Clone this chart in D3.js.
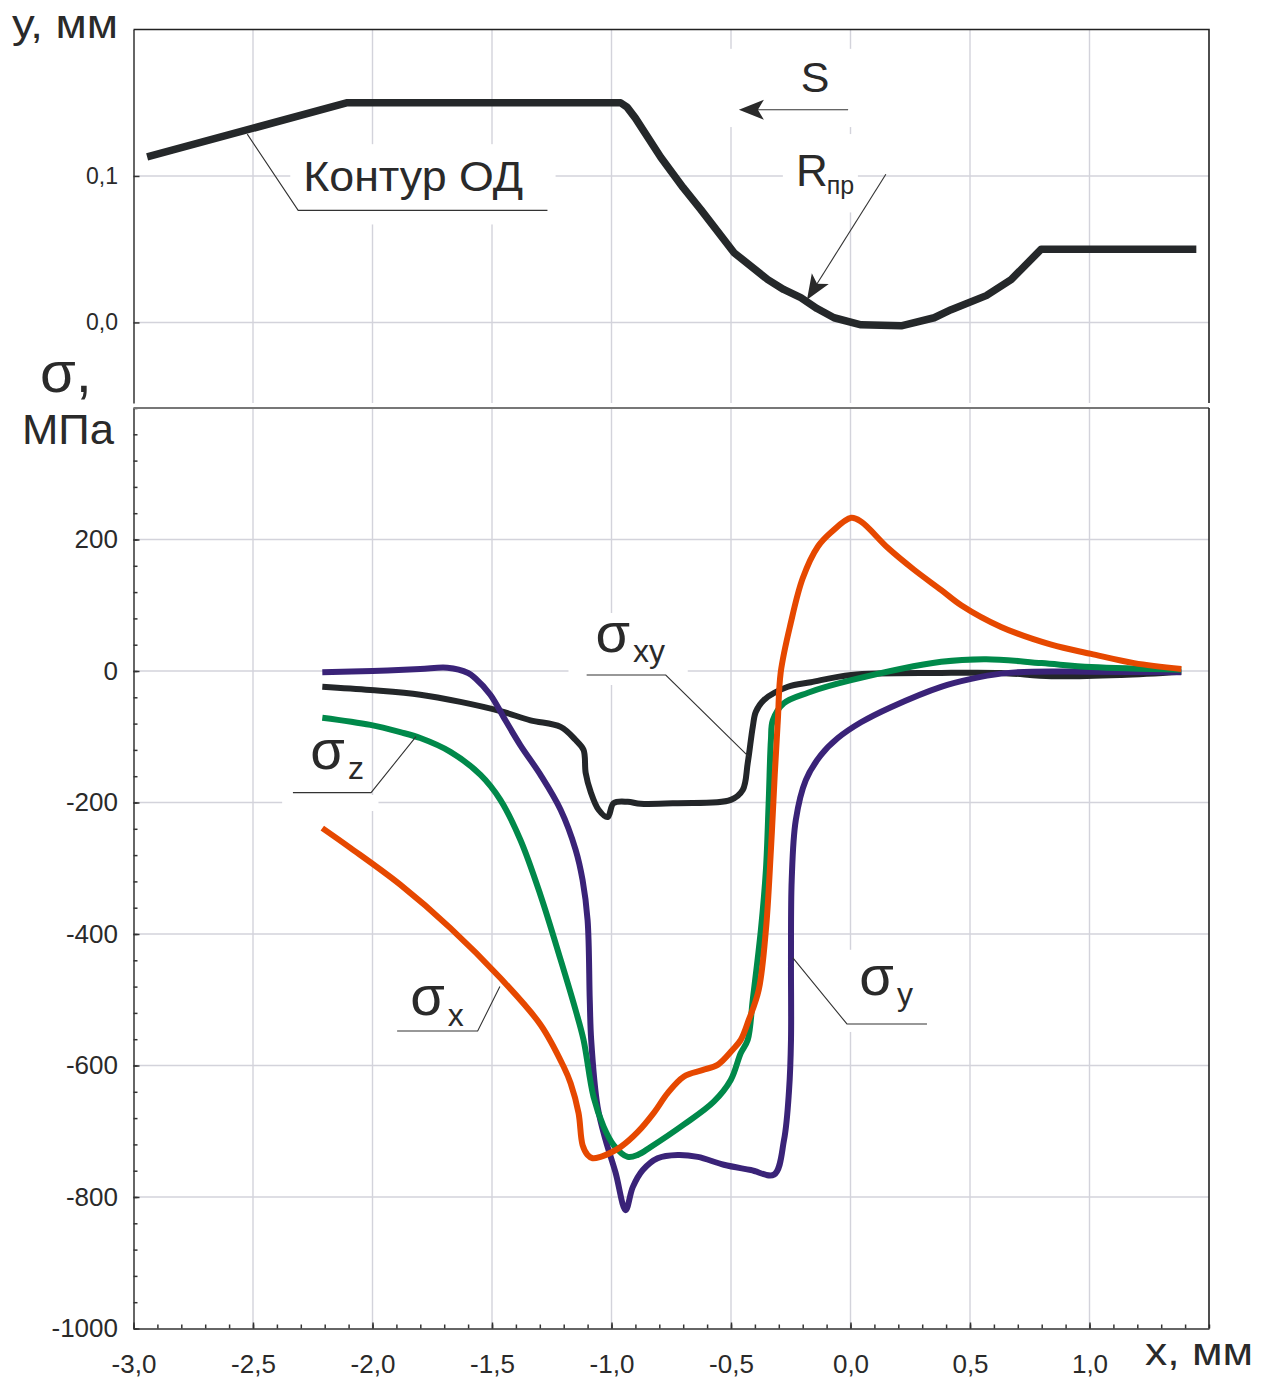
<!DOCTYPE html>
<html><head><meta charset="utf-8">
<script src="https://cdn.jsdelivr.net/npm/d3@7"></script>
<style>
body{margin:0;background:#fff}
svg text{font-family:"Liberation Sans",Arial,sans-serif;fill:#2a2a2a}
</style>
</head><body>
<svg id="c" width="1263" height="1380"></svg>
<script>
// ---------------- DATA ----------------
const X_TICKS = [-3.0, -2.5, -2.0, -1.5, -1.0, -0.5, 0.0, 0.5, 1.0];
const X_TICK_LABELS = ["-3,0", "-2,5", "-2,0", "-1,5", "-1,0", "-0,5", "0,0", "0,5", "1,0"];
const TOP_Y_TICKS = [0.0, 0.1];
const TOP_Y_TICK_LABELS = ["0,0", "0,1"];
const SIG_TICKS = [200, 0, -200, -400, -600, -800, -1000];
const SIG_TICK_LABELS = ["200", "0", "-200", "-400", "-600", "-800", "-1000"];

// contour of the part (top panel), mm
const contourX = [-2.943, -2.105, -0.962, -0.935, -0.900, -0.794, -0.700, -0.627, -0.488, -0.346, -0.280, -0.208, -0.140, -0.069, 0.044, 0.212, 0.350, 0.421, 0.568, 0.672, 0.798, 1.447];
const contourY = [0.113, 0.150, 0.150, 0.147, 0.1395, 0.1128, 0.0920, 0.0772, 0.0477, 0.0292, 0.0225, 0.0169, 0.0095, 0.0032, -0.0016, -0.0023, 0.0032, 0.0087, 0.0183, 0.0292, 0.050, 0.050];

// sigma_x (orange)
const sxX = [-2.210, -2.093, -1.884, -1.674, -1.465, -1.297, -1.200, -1.171, -1.138, -1.121, -1.100, -1.079, -1.046, -1.000, -0.962, -0.890, -0.823, -0.765, -0.698, -0.620, -0.556, -0.493, -0.459, -0.426, -0.384, -0.354, -0.333, -0.317, -0.304, -0.292, -0.250, -0.200, -0.137, -0.081, 0.003, 0.045, 0.157, 0.266, 0.380, 0.463, 0.630, 0.840, 1.007, 1.187, 1.384];
const sxY = [-239, -269, -325, -391, -467, -538, -602, -627, -672, -721, -736, -741, -739, -732, -724, -701, -672, -642, -617, -607, -599, -576, -561, -531, -485, -394, -272, -158, -75, -2, 73, 141, 189, 211, 233, 227, 187, 154, 123, 100, 67, 40, 26, 12, 3];

// sigma_y (purple)
const syX = [-2.210, -2.000, -1.800, -1.687, -1.600, -1.570, -1.507, -1.444, -1.381, -1.297, -1.213, -1.150, -1.121, -1.100, -1.091, -1.085, -1.058, -1.025, -0.983, -0.941, -0.911, -0.869, -0.807, -0.723, -0.639, -0.530, -0.417, -0.320, -0.278, -0.257, -0.249, -0.249, -0.246, -0.229, -0.187, -0.124, -0.053, 0.044, 0.169, 0.379, 0.505, 0.630, 0.760, 1.000, 1.384];
const syY = [-2, 0, 3, 5, -3, -11, -36, -75, -113, -158, -211, -272, -318, -379, -500, -561, -663, -713, -763, -820, -785, -759, -741, -736, -739, -751, -759, -766, -713, -637, -561, -439, -318, -227, -166, -128, -102, -78, -55, -24, -12, -4, -1, -1, -2];

// sigma_z (green)
const szX = [-2.210, -2.009, -1.884, -1.800, -1.674, -1.548, -1.465, -1.381, -1.297, -1.213, -1.150, -1.117, -1.075, -1.033, -0.991, -0.932, -0.890, -0.836, -0.698, -0.572, -0.501, -0.459, -0.430, -0.409, -0.375, -0.354, -0.342, -0.333, -0.325, -0.279, -0.178, 0.003, 0.380, 0.568, 0.800, 1.007, 1.384];
const szY = [-71, -82, -93, -102, -123, -158, -196, -257, -341, -439, -516, -561, -648, -693, -721, -739, -736, -724, -690, -655, -622, -581, -561, -500, -394, -303, -196, -105, -75, -49, -33, -14, 14, 18, 12, 6, 2];

// tau_xy (black)
const sxyX = [-2.210, -2.009, -1.800, -1.632, -1.465, -1.339, -1.213, -1.150, -1.117, -1.108, -1.087, -1.054, -1.016, -0.991, -0.932, -0.878, -0.723, -0.501, -0.451, -0.430, -0.409, -0.396, -0.362, -0.262, -0.166, 0.003, 0.380, 0.630, 0.840, 1.133, 1.384];
const sxyY = [-24, -29, -36, -47, -61, -75, -85, -105, -120, -155, -184, -211, -222, -201, -199, -202, -201, -196, -181, -140, -85, -62, -44, -24, -17, -6, -3, -3, -8, -6, -1];

// ---------------- LAYOUT ----------------
const L = 133.5, R = 1209, T1 = 29.5, B1 = 403, T2 = 408, B2 = 1328.5;
const svg = d3.select("#c");
const x = d3.scaleLinear().domain([-3, 1.5]).range([L, R]);
const yT = d3.scaleLinear().domain([-0.055, 0.2]).range([B1, T1]);
const yB = d3.scaleLinear().domain([-1000, 400]).range([B2, T2]);

const GRID = "#d3d3db", AX = "#333";
const COL = {sx: "#e64800", sy: "#3a2378", sz: "#00894a", sxy: "#232629"};

svg.append("rect").attr("width", 1263).attr("height", 1380).attr("fill", "#fff");

// grid
const grid = svg.append("g").attr("stroke", GRID).attr("stroke-width", 1.4);
X_TICKS.filter(v => v > -3).forEach(v => {
  grid.append("line").attr("x1", x(v)).attr("x2", x(v)).attr("y1", T1).attr("y2", B1);
  grid.append("line").attr("x1", x(v)).attr("x2", x(v)).attr("y1", T2).attr("y2", B2);
});
TOP_Y_TICKS.forEach(v => grid.append("line").attr("x1", L).attr("x2", R).attr("y1", yT(v)).attr("y2", yT(v)));
SIG_TICKS.filter(v => v > -1000).forEach(v => grid.append("line").attr("x1", L).attr("x2", R).attr("y1", yB(v)).attr("y2", yB(v)));

// white boxes behind labels
const boxesTop = [[-2.344, -1.234, 0.0669, 0.1217], [-0.522, 0.044, 0.1334, 0.1868], [-0.283, 0.031, 0.0751, 0.1286]];
const boxesBot = [[-1.180, -0.681, -21.3, 88.2], [-2.378, -1.975, -212.9, -188.6], [-0.040, 0.337, -549, -424]];
boxesTop.forEach(b => svg.append("rect").attr("x", x(b[0])).attr("width", x(b[1]) - x(b[0]))
  .attr("y", yT(b[3])).attr("height", yT(b[2]) - yT(b[3])).attr("fill", "#fff"));
boxesBot.forEach(b => svg.append("rect").attr("x", x(b[0])).attr("width", x(b[1]) - x(b[0]))
  .attr("y", yB(b[3])).attr("height", yB(b[2]) - yB(b[3])).attr("fill", "#fff"));

// axes
function styleAxis(g, fs) {
  g.attr("font-family", "Liberation Sans, Arial, sans-serif").attr("font-size", fs);
  g.selectAll("path,line").attr("stroke", AX).attr("stroke-width", 1.5);
  g.selectAll("text").attr("fill", "#2a2a2a");
}
const gTopY = svg.append("g").attr("transform", `translate(${L},0)`)
  .call(d3.axisLeft(yT).tickValues(TOP_Y_TICKS).tickFormat((d, i) => TOP_Y_TICK_LABELS[i]).tickSize(-6).tickSizeOuter(0).tickPadding(15.5));
styleAxis(gTopY, 23);
const gBotY = svg.append("g").attr("transform", `translate(${L},0)`)
  .call(d3.axisLeft(yB).tickValues(SIG_TICKS).tickFormat((d, i) => SIG_TICK_LABELS[i]).tickSize(-6).tickSizeOuter(0).tickPadding(15.5));
styleAxis(gBotY, 26);
const gBotYm = svg.append("g").attr("transform", `translate(${L},0)`)
  .call(d3.axisLeft(yB).tickValues(d3.range(-1000, 401, 40)).tickFormat("").tickSize(-4).tickSizeOuter(0));
gBotYm.select(".domain").remove(); styleAxis(gBotYm, 10);
const gX = svg.append("g").attr("transform", `translate(0,${B2})`)
  .call(d3.axisBottom(x).tickValues(X_TICKS).tickFormat((d, i) => X_TICK_LABELS[i]).tickSize(-6).tickSizeOuter(0).tickPadding(26));
styleAxis(gX, 26);
const gXm = svg.append("g").attr("transform", `translate(0,${B2})`)
  .call(d3.axisBottom(x).tickValues(d3.range(0, 46).map(i => -3 + i * 0.1)).tickFormat("").tickSize(-4).tickSizeOuter(0));
gXm.select(".domain").remove(); styleAxis(gXm, 10);

// frames
svg.append("path").attr("d", `M${L},${T1}H${R}V${B1}`).attr("fill", "none").attr("stroke", "#222").attr("stroke-width", 1.6);
svg.append("line").attr("x1", L).attr("x2", R).attr("y1", T2).attr("y2", T2).attr("stroke", "#777").attr("stroke-width", 2);
svg.append("line").attr("x1", R).attr("x2", R).attr("y1", T2).attr("y2", B2).attr("stroke", "#222").attr("stroke-width", 1.6);

// curves
const zip = (a, b) => a.map((v, i) => [v, b[i]]);
const topLine = d3.line().x(d => x(d[0])).y(d => yT(d[1])).curve(d3.curveLinear);
const botLine = d3.line().x(d => x(d[0])).y(d => yB(d[1])).curve(d3.curveCatmullRom.alpha(0.5));

svg.append("path").attr("d", topLine(zip(contourX, contourY))).attr("fill", "none")
  .attr("stroke", "#25282a").attr("stroke-width", 7.5).attr("stroke-linejoin", "round");

[[sxyX, sxyY, COL.sxy], [syX, syY, COL.sy], [szX, szY, COL.sz], [sxX, sxY, COL.sx]].forEach(([a, b, c]) => {
  svg.append("path").attr("d", botLine(zip(a, b))).attr("fill", "none")
    .attr("stroke", c).attr("stroke-width", 6).attr("stroke-linejoin", "round");
});

// leaders
const lead = svg.append("g").attr("fill", "none").attr("stroke", "#333").attr("stroke-width", 1.1);
function leaderTop(pts) { lead.append("path").attr("d", d3.line().x(d => x(d[0])).y(d => yT(d[1]))(pts)); }
function leaderBot(pts) { lead.append("path").attr("d", d3.line().x(d => x(d[0])).y(d => yB(d[1]))(pts)); }
leaderTop([[-2.524, 0.1286], [-2.311, 0.0765], [-1.268, 0.0765]]);
leaderBot([[-1.104, -6.1], [-0.773, -6.1], [-0.426, -130.3]]);
leaderBot([[-2.333, -185], [-2.006, -185], [-1.818, -99.9]]);
leaderBot([[-1.897, -547.5], [-1.560, -547.5], [-1.467, -480]]);
leaderBot([[0.320, -536.8], [-0.015, -536.8], [-0.241, -436.4]]);

function arrow(x0, y0, x1, y1) {
  const dx = x1 - x0, dy = y1 - y0, len = Math.hypot(dx, dy), ux = dx / len, uy = dy / len;
  const hl = 25, hw = 10, notch = 6;
  const bx = x1 - ux * hl, by = y1 - uy * hl;
  svg.append("line").attr("x1", x0).attr("y1", y0).attr("x2", x1 - ux * 10).attr("y2", y1 - uy * 10)
    .attr("stroke", "#333").attr("stroke-width", 1.1);
  const pts = [[x1, y1], [bx - uy * hw, by + ux * hw], [x1 - ux * (hl - notch), y1 - uy * (hl - notch)], [bx + uy * hw, by - ux * hw]];
  svg.append("path").attr("d", "M" + pts.map(p => p.join(",")).join("L") + "Z").attr("fill", "#2a2a2a");
}
arrow(x(-0.010), yT(0.1452), x(-0.467), yT(0.1452));
arrow(x(0.148), yT(0.1012), x(-0.182), yT(0.0155));

// labels
function txt(px, py, s, fs) { return svg.append("text").attr("x", px).attr("y", py).attr("font-size", fs).text(s); }
txt(x(-2.290), yT(0.0895), "Контур ОД", 42).attr("textLength", 220).attr("lengthAdjust", "spacingAndGlyphs");
txt(x(-0.208), yT(0.1573), "S", 43);
const rT = txt(x(-0.228), yT(0.0929), "R", 44);
rT.append("tspan").attr("font-size", 25).attr("dx", -1).attr("dy", 8).text("пр");

function sig(xv, yv, sub, dy) {
  const t = txt(x(xv), yB(yv), "σ", 56);
  t.append("tspan").attr("font-size", 32).attr("dx", 3).attr("dy", dy).text(sub);
}
sig(-1.067, 28.9, "xy", 10);
sig(-2.260, -149, "z", 10);
sig(-1.842, -523, "x", 11);
sig(0.037, -492.7, "y", 10);

// axis titles
txt(12, 38, "у, мм", 40).attr("textLength", 106).attr("lengthAdjust", "spacingAndGlyphs");
txt(40, 392, "σ,", 58);
txt(22, 444, "МПа", 42).attr("textLength", 92).attr("lengthAdjust", "spacingAndGlyphs");
txt(1145, 1365, "x, мм", 38).attr("textLength", 108).attr("lengthAdjust", "spacingAndGlyphs");
</script>
</body></html>
